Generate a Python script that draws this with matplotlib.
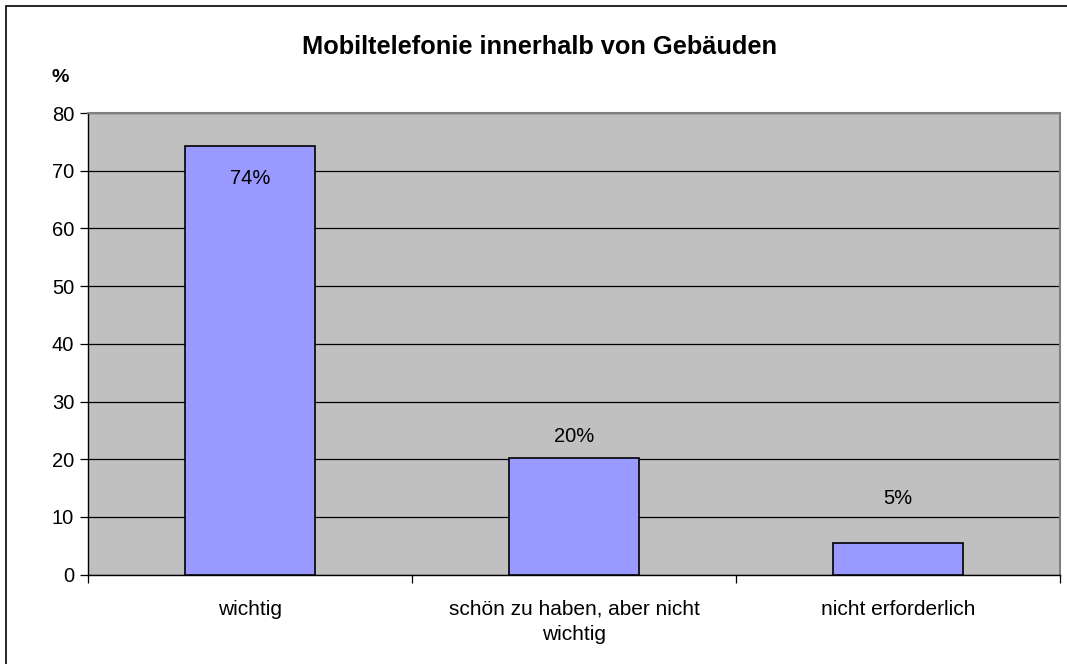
import matplotlib.pyplot as plt
import matplotlib.patches as mpatches
from matplotlib.ticker import FixedLocator, NullFormatter

# Chart data
categories = ["wichtig", "schön zu haben, aber nicht\nwichtig", "nicht erforderlich"]
values = [74.2, 20.2, 5.5]
value_labels = ["74%", "20%", "5%"]
y_ticks = [0, 10, 20, 30, 40, 50, 60, 70, 80]

title = "Mobiltelefonie innerhalb von Gebäuden"

plt.rcParams["font.family"] = ["Liberation Sans", "DejaVu Sans"]

fig = plt.figure(figsize=(10.67, 6.64), dpi=100)
ax = fig.add_axes([88 / 1067, 1 - 574.7 / 664, 972 / 1067, 461.7 / 664])

# Outer frame of the chart (only left and top edges fall inside the image)
fig.patches.append(mpatches.Rectangle((6 / 1067, -0.1), 1.2, 1 - 6 / 664 + 0.1,
                                      transform=fig.transFigure, fill=False,
                                      edgecolor="black", linewidth=1.2))

ax.set_facecolor("#C0C0C0")
positions = list(range(len(categories)))
ax.bar(positions, values, width=0.4, color="#9999FF", edgecolor="black",
       linewidth=1.2, zorder=3)

ax.set_xlim(-0.5, len(categories) - 0.5)
ax.set_ylim(0, 80)
ax.set_yticks(y_ticks)
ax.yaxis.grid(True, color="black", linewidth=0.9, zorder=1)
ax.set_axisbelow(True)

# Category labels between boundary ticks, like Excel
ax.set_xticks(positions)
ax.set_xticklabels(categories, fontsize=15, linespacing=1.4)
ax.tick_params(axis="x", which="major", length=0, pad=18)
ax.xaxis.set_minor_locator(FixedLocator([p - 0.5 for p in positions] + [len(categories) - 0.5]))
ax.xaxis.set_minor_formatter(NullFormatter())
ax.tick_params(axis="x", which="minor", length=6, width=0.9, direction="out")
ax.tick_params(axis="y", labelsize=14.5, length=6, width=0.9, direction="out", pad=4)

for side in ["top", "right"]:
    ax.spines[side].set_color("#808080")
    ax.spines[side].set_linewidth(1.5)
for side in ["left", "bottom"]:
    ax.spines[side].set_color("black")
    ax.spines[side].set_linewidth(1.0)

# Value labels (offsets in pixels from bar top)
label_offsets = [-32, 22, 44]
for pos, val, text, off in zip(positions, values, value_labels, label_offsets):
    ax.annotate(text, (pos, val), xytext=(0, off * 0.72), textcoords="offset points",
                ha="center", va="center", fontsize=14.5, zorder=4)

fig.text(540 / 1067, 1 - 47 / 664, title, ha="center", va="center",
         fontsize=18.3, fontweight="bold")
fig.text(60 / 1067, 1 - 77 / 664, "%", ha="center", va="center",
         fontsize=14, fontweight="bold")

fig.savefig("out.png", dpi=100)
